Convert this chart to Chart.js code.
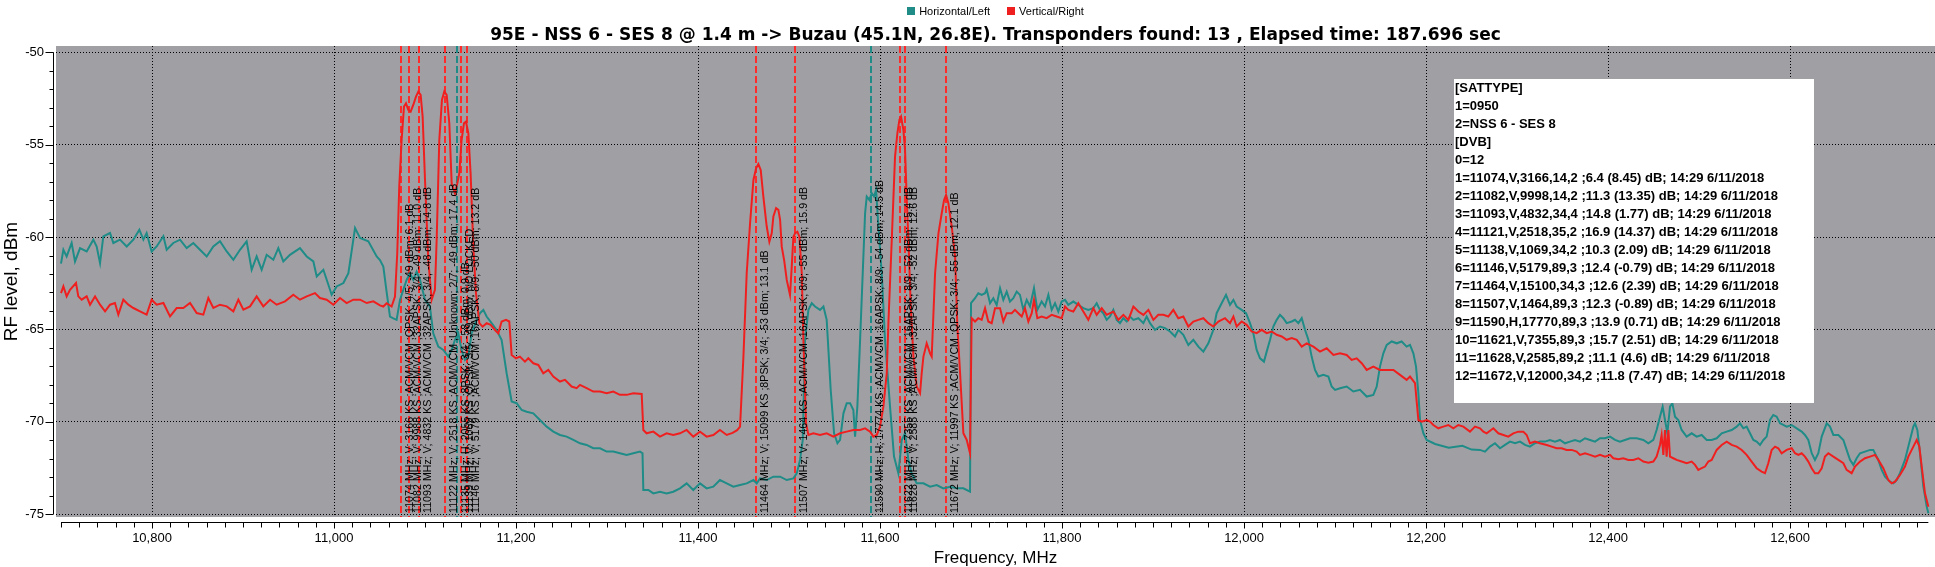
<!doctype html>
<html lang="en">
<head>
<meta charset="utf-8">
<title>95E - NSS 6 - SES 8 spectrum scan</title>
<script src="https://cdn.jsdelivr.net/npm/chart.js@4.4.1/dist/chart.umd.min.js"></script>
<style>
  html, body { margin: 0; padding: 0; background: #fff; }
  canvas { display: block; }
</style>
</head>
<body>
<canvas id="scan" width="1935" height="567"></canvas>
<script>
// spectrum traces, [frequency MHz, level dBm]
const hTrace = [
  [10700,-61.44],[10702.6,-60.69],[10706.2,-61.05],[10711.7,-60.32],[10715.4,-61.32],[10720.9,-60.60],[10728.2,-60.78],[10735.5,-60.14],[10739.2,-60.51],[10742.9,-61.41],
  [10746.5,-59.96],[10753.9,-59.78],[10757.5,-60.32],[10764.8,-60.14],[10772.2,-60.51],[10779.5,-60.14],[10786.1,-59.60],[10790.5,-60.14],[10794.1,-59.78],[10799.6,-60.78],
  [10805.1,-60.51],[10812.5,-59.96],[10816.1,-60.69],[10823.4,-60.32],[10830.8,-60.14],[10838.1,-60.60],[10845.4,-60.32],[10852.7,-60.69],[10860.1,-61.05],[10867.4,-60.51],
  [10874.7,-60.23],[10882.1,-60.78],[10889.4,-61.23],[10896.7,-60.69],[10904.0,-60.23],[10909.5,-61.77],[10915.0,-61.05],[10920.5,-61.77],[10926.0,-60.96],[10933.3,-61.23],
  [10938.8,-60.60],[10944.3,-61.32],[10951.6,-60.96],[10962.6,-60.60],[10970.0,-61.05],[10977.3,-61.32],[10981.0,-62.13],[10988.3,-61.77],[10993.8,-62.58],[10997.4,-63.12],
  [11002.9,-62.67],[11010.3,-62.49],[11015.8,-61.95],[11023.1,-59.51],[11028.6,-60.05],[11037.7,-60.23],[11046.9,-61.05],[11050.5,-61.24],[11054.2,-61.60],[11057.8,-62.96],
  [11061.5,-64.30],[11065.2,-64.40],[11068.8,-64.48],[11072.5,-63.40],[11076.1,-62.86],[11079.8,-62.32],[11083.5,-61.96],[11087.1,-62.32],[11090.8,-61.87],[11094.5,-62.32],
  [11100.0,-63.40],[11105.4,-63.76],[11109.1,-65.21],[11114.6,-65.93],[11120.1,-66.11],[11125.6,-66.47],[11129.3,-66.11],[11132.9,-65.57],[11136.6,-65.21],[11140.2,-66.11],
  [11143.9,-66.65],[11147.6,-66.47],[11151.2,-65.21],[11156.7,-64.48],[11160.4,-64.12],[11164.1,-63.94],[11167.7,-64.30],[11173.2,-64.66],[11178.7,-65.03],[11184.2,-65.57],
  [11189.7,-67.37],[11195.2,-68.90],[11200.7,-68.99],[11206.2,-69.36],[11211.7,-69.45],[11219.0,-69.54],[11226.3,-69.90],[11233.7,-70.26],[11241.0,-70.53],[11248.3,-70.71],
  [11255.6,-70.80],[11263.0,-70.98],[11270.3,-71.16],[11277.6,-71.25],[11284.9,-71.43],[11292.3,-71.43],[11299.6,-71.61],[11306.9,-71.61],[11314.2,-71.70],[11321.6,-71.79],
  [11328.9,-71.70],[11336.2,-71.61],[11339.0,-71.70],[11339.9,-73.69],[11345.4,-73.69],[11350.9,-73.87],[11358.2,-73.78],[11365.5,-73.87],[11372.8,-73.78],[11380.2,-73.60],
  [11387.5,-73.33],[11394.8,-73.69],[11402.2,-73.33],[11409.5,-73.60],[11416.8,-73.51],[11424.1,-73.15],[11431.5,-73.33],[11438.8,-73.51],[11446.2,-73.42],[11453.5,-73.33],
  [11460.9,-73.15],[11464.5,-73.33],[11468.2,-73.06],[11475.5,-73.15],[11482.8,-72.97],[11490.2,-72.97],[11497.5,-73.15],[11504.8,-73.06],[11508.5,-72.79],[11512.1,-72.06],
  [11515.1,-70.98],[11517.6,-65.57],[11521.3,-63.94],[11525.0,-63.58],[11528.6,-63.76],[11534.1,-63.94],[11537.8,-63.76],[11541.4,-64.48],[11543.3,-66.11],[11545.8,-68.27],
  [11549.5,-70.62],[11553.2,-71.16],[11556.1,-70.98],[11559.8,-69.54],[11563.4,-68.99],[11567.1,-68.99],[11570.7,-69.36],[11572.6,-70.80],[11575.1,-69.17],[11578.1,-65.57],
  [11581.0,-61.96],[11583.6,-58.71],[11585.4,-57.81],[11588.3,-57.99],[11590.9,-57.63],[11593.5,-57.81],[11595.7,-57.45],[11598.2,-59.43],[11601.9,-61.96],[11605.5,-65.57],
  [11611.0,-69.18],[11615.4,-71.88],[11620.2,-72.79],[11623.9,-70.98],[11627.5,-70.62],[11631.2,-72.06],[11634.8,-72.79],[11640.3,-73.33],[11647.7,-73.33],[11655.0,-73.51],
  [11662.3,-73.42],[11669.6,-73.60],[11677.0,-73.51],[11684.3,-73.60],[11691.6,-73.60],[11698.9,-73.78],[11700.0,-63.58],[11704.4,-63.31],[11708.0,-63.04],[11711.7,-63.13],
  [11715.4,-63.04],[11717.2,-62.83],[11720.9,-63.58],[11724.5,-63.31],[11728.2,-63.67],[11731.9,-62.77],[11735.5,-63.40],[11739.2,-62.95],[11742.8,-63.49],[11746.5,-63.31],
  [11750.2,-62.95],[11753.8,-63.13],[11757.5,-63.94],[11761.2,-63.40],[11764.8,-63.76],[11769.2,-62.77],[11772.9,-63.94],[11777.6,-63.49],[11781.3,-63.76],[11785.0,-63.13],
  [11788.6,-63.94],[11792.3,-63.58],[11795.9,-64.03],[11799.6,-63.49],[11803.3,-63.40],[11806.9,-63.67],[11812.4,-63.49],[11817.9,-63.67],[11823.4,-63.85],[11828.9,-63.94],
  [11834.4,-63.85],[11838.1,-63.58],[11841.7,-63.94],[11845.4,-64.12],[11849.1,-64.48],[11852.7,-64.30],[11856.4,-63.94],[11860.1,-64.48],[11863.7,-64.66],[11867.4,-64.39],
  [11871.1,-64.57],[11874.7,-64.30],[11878.4,-64.48],[11883.9,-64.39],[11889.4,-64.66],[11893.0,-64.30],[11896.7,-64.66],[11902.2,-65.02],[11907.7,-64.84],[11913.2,-64.93],
  [11918.7,-65.11],[11924.2,-65.38],[11927.8,-65.02],[11933.3,-65.29],[11938.8,-65.84],[11944.3,-65.56],[11949.8,-65.93],[11955.3,-66.20],[11960.8,-65.75],[11966.3,-65.02],
  [11969.9,-64.12],[11975.4,-63.58],[11980.2,-63.13],[11984.6,-63.67],[11988.3,-63.40],[11991.9,-63.76],[11997.4,-63.94],[12002.2,-64.12],[12006.6,-64.66],[12010.2,-65.20],
  [12013.9,-66.11],[12017.6,-66.56],[12021.9,-66.74],[12024.9,-66.20],[12028.6,-65.56],[12032.2,-64.84],[12035.9,-64.48],[12039.5,-64.21],[12043.2,-64.39],[12046.9,-64.66],
  [12052.4,-64.57],[12056.0,-64.48],[12059.7,-64.66],[12063.4,-64.39],[12067.0,-65.02],[12070.7,-65.56],[12074.3,-66.47],[12078.0,-67.19],[12081.7,-67.55],[12087.2,-67.46],
  [12092.7,-67.55],[12096.3,-68.09],[12100.0,-68.27],[12105.5,-68.18],[12112.8,-68.09],[12120.1,-68.36],[12127.5,-68.27],[12134.8,-68.63],[12142.1,-68.54],[12145.8,-68.09],
  [12149.4,-67.01],[12153.1,-66.29],[12156.8,-65.84],[12162.3,-65.65],[12167.8,-65.75],[12173.2,-65.65],[12178.7,-65.93],[12182.4,-65.84],[12186.1,-66.29],[12189.0,-67.01],
  [12191.6,-68.45],[12193.4,-69.90],[12197.1,-70.62],[12200.7,-70.98],[12210.0,-71.20],[12225.0,-71.40],[12240.0,-71.30],[12250.0,-71.50],[12259.3,-71.52],[12264.8,-71.61],
  [12270.3,-71.34],[12275.8,-71.16],[12281.3,-71.43],[12286.8,-71.25],[12292.3,-71.07],[12297.8,-71.16],[12303.3,-71.07],[12308.8,-71.25],[12314.2,-71.34],[12319.7,-71.16],
  [12325.2,-71.07],[12330.7,-71.07],[12336.2,-70.98],[12341.7,-71.07],[12347.2,-70.98],[12352.7,-71.16],[12358.2,-71.07],[12363.7,-70.98],[12369.2,-71.07],[12374.7,-70.89],
  [12380.2,-70.98],[12385.7,-71.07],[12391.2,-70.89],[12396.7,-70.89],[12402.2,-70.80],[12407.7,-70.98],[12413.1,-71.07],[12418.6,-70.98],[12424.1,-70.89],[12431.5,-70.89],
  [12438.8,-70.98],[12444.3,-71.16],[12449.8,-70.98],[12453.4,-70.44],[12457.1,-69.72],[12460.0,-69.18],[12462.6,-69.90],[12465.2,-70.62],[12468.1,-69.18],[12470.7,-69.00],
  [12473.6,-69.72],[12477.2,-69.90],[12480.9,-70.44],[12486.4,-70.80],[12491.9,-70.62],[12497.4,-70.80],[12502.9,-70.71],[12508.4,-70.98],[12513.9,-70.98],[12519.4,-70.89],
  [12524.9,-70.62],[12530.4,-70.53],[12535.9,-70.44],[12541.4,-70.26],[12545.0,-70.08],[12548.7,-70.35],[12552.3,-70.26],[12556.0,-70.62],[12559.7,-70.98],[12563.3,-71.07],
  [12567.0,-71.25],[12570.7,-70.98],[12574.3,-70.80],[12578.0,-69.90],[12581.6,-69.63],[12585.3,-69.72],[12589.0,-70.08],[12592.6,-70.17],[12596.3,-70.26],[12601.8,-70.17],
  [12607.3,-70.35],[12612.8,-70.53],[12616.4,-70.71],[12620.1,-70.98],[12623.8,-71.70],[12627.4,-72.06],[12631.1,-71.70],[12634.8,-70.80],[12640.3,-70.08],[12643.9,-70.26],
  [12647.6,-70.71],[12653.1,-70.71],[12658.6,-70.98],[12662.2,-71.52],[12665.9,-72.06],[12669.6,-72.33],[12673.2,-71.97],[12676.9,-71.70],[12682.4,-71.61],[12687.9,-71.52],
  [12691.5,-71.52],[12697.0,-72.06],[12700.7,-72.60],[12704.4,-72.97],[12709.8,-73.24],[12713.5,-73.33],[12717.2,-73.15],[12720.8,-72.78],[12726.3,-72.06],[12731.8,-70.98],
  [12735.5,-70.26],[12737.3,-70.08],[12739.9,-70.44],[12742.8,-71.70],[12746.5,-73.51],[12750.2,-74.59],[12752.0,-74.95]
];

const vTrace = [
  [10700,-63.03],[10702.6,-62.67],[10706.2,-63.21],[10709.9,-62.85],[10716.5,-62.49],[10719.0,-63.21],[10722.7,-63.39],[10728.2,-63.21],[10731.9,-63.66],[10737.4,-63.21],
  [10742.9,-63.66],[10748.4,-64.02],[10753.9,-63.66],[10759.3,-63.57],[10763.0,-64.20],[10768.5,-63.39],[10774.0,-63.66],[10779.5,-63.84],[10786.8,-64.02],[10794.1,-64.20],
  [10799.6,-63.39],[10805.1,-63.66],[10812.5,-63.57],[10819.8,-64.29],[10827.1,-63.84],[10834.4,-63.84],[10841.8,-63.57],[10849.1,-64.11],[10856.4,-64.20],[10861.9,-63.30],
  [10867.4,-63.84],[10874.7,-63.66],[10882.1,-63.75],[10889.4,-64.02],[10894.9,-63.39],[10900.4,-63.93],[10907.7,-63.75],[10915.0,-63.21],[10922.3,-63.75],[10929.7,-63.39],
  [10937.0,-63.66],[10946.2,-63.48],[10955.3,-63.12],[10962.6,-63.39],[10970.0,-63.21],[10979.1,-63.03],[10984.6,-63.30],[10991.9,-63.39],[10999.3,-63.66],[11006.6,-63.30],
  [11013.9,-63.57],[11021.2,-63.39],[11028.6,-63.39],[11035.9,-63.57],[11043.2,-63.48],[11050.5,-63.70],[11054.2,-63.76],[11057.8,-63.58],[11063.3,-63.76],[11067.0,-63.22],
  [11069.5,-60.88],[11071.7,-57.27],[11074.3,-54.75],[11076.9,-52.94],[11079.1,-52.76],[11081.6,-53.12],[11084.2,-53.21],[11087.1,-52.85],[11090.1,-52.40],[11092.6,-52.13],
  [11095.2,-52.31],[11097.4,-53.48],[11100.0,-56.91],[11103.6,-61.24],[11107.3,-63.40],[11110.9,-62.86],[11112.8,-60.16],[11115.7,-54.75],[11118.6,-52.58],[11121.2,-52.13],
  [11123.8,-52.31],[11126.7,-53.84],[11129.3,-57.09],[11132.9,-57.63],[11135.5,-57.09],[11137.7,-56.55],[11140.2,-54.75],[11142.8,-53.84],[11145.0,-53.75],[11147.6,-54.38],
  [11150.1,-56.55],[11153.1,-60.52],[11156.0,-63.04],[11159.7,-64.66],[11163.3,-64.85],[11167.7,-64.66],[11172.1,-64.75],[11176.9,-65.03],[11180.5,-65.21],[11184.2,-64.57],
  [11189.0,-64.48],[11192.6,-64.57],[11195.2,-66.38],[11200.0,-66.56],[11204.3,-66.47],[11209.8,-66.74],[11213.5,-66.56],[11219.0,-66.83],[11224.5,-66.92],[11230.0,-67.37],
  [11235.5,-67.19],[11241.0,-67.55],[11248.3,-67.82],[11253.8,-67.73],[11261.1,-68.09],[11266.6,-68.18],[11270.3,-68.00],[11277.6,-68.18],[11284.9,-68.36],[11292.3,-68.36],
  [11299.6,-68.45],[11306.9,-68.36],[11314.2,-68.54],[11321.6,-68.54],[11328.9,-68.45],[11338.1,-68.49],[11339.9,-70.44],[11343.5,-70.62],[11350.9,-70.53],[11358.2,-70.80],
  [11365.5,-70.62],[11372.8,-70.71],[11380.2,-70.62],[11387.5,-70.44],[11394.8,-70.80],[11402.2,-70.53],[11409.5,-70.80],[11416.8,-70.71],[11424.1,-70.44],[11431.5,-70.71],
  [11438.0,-70.60],[11443.0,-70.45],[11446.2,-70.26],[11449.9,-66.47],[11453.5,-61.96],[11457.2,-59.25],[11460.9,-56.91],[11463.8,-56.28],[11466.3,-56.05],[11468.9,-56.37],
  [11471.8,-57.81],[11475.5,-59.43],[11478.4,-60.25],[11481.0,-59.80],[11482.8,-58.89],[11485.8,-58.44],[11488.3,-58.53],[11490.2,-59.07],[11492.0,-60.52],[11494.6,-61.24],
  [11497.5,-62.32],[11501.1,-63.13],[11503.0,-61.60],[11504.8,-59.98],[11506.6,-59.80],[11509.2,-59.71],[11511.4,-59.98],[11514.0,-61.96],[11515.8,-65.57],[11518.7,-70.08],
  [11521.3,-70.71],[11526.8,-70.62],[11534.1,-70.71],[11541.4,-70.62],[11548.8,-70.80],[11556.1,-70.62],[11563.4,-70.53],[11570.7,-70.44],[11578.1,-70.44],[11583.6,-70.35],
  [11589.1,-70.53],[11592.7,-70.80],[11596.4,-70.71],[11600.0,-70.26],[11603.7,-69.18],[11607.4,-67.37],[11609.2,-64.66],[11612.9,-60.16],[11616.5,-55.65],[11619.1,-54.38],
  [11621.3,-53.66],[11623.1,-53.48],[11625.7,-54.20],[11627.5,-55.29],[11629.4,-57.99],[11631.2,-60.16],[11633.8,-63.76],[11636.7,-66.47],[11640.3,-68.09],[11644.0,-68.45],
  [11645.8,-67.37],[11647.7,-66.47],[11651.3,-65.75],[11655.0,-66.29],[11656.8,-66.47],[11660.5,-61.96],[11664.2,-59.80],[11667.8,-58.71],[11670.4,-57.99],[11672.6,-57.72],
  [11675.1,-58.17],[11678.8,-59.43],[11682.5,-61.06],[11685.0,-64.85],[11688.0,-67.37],[11691.6,-70.62],[11695.3,-70.98],[11698.9,-71.70],[11700.7,-64.39],[11704.4,-64.57],
  [11708.0,-64.39],[11711.7,-64.48],[11715.4,-63.85],[11719.0,-64.57],[11722.7,-64.66],[11726.4,-63.85],[11731.9,-63.85],[11735.5,-64.57],[11739.2,-64.12],[11744.7,-64.12],
  [11748.3,-63.94],[11752.0,-64.12],[11755.7,-64.30],[11759.3,-63.85],[11763.0,-64.57],[11766.7,-64.12],[11769.2,-63.40],[11772.9,-64.39],[11777.6,-64.30],[11783.1,-64.39],
  [11788.6,-64.21],[11794.1,-64.30],[11799.6,-64.39],[11803.3,-63.76],[11806.9,-63.94],[11812.4,-64.03],[11817.9,-63.58],[11823.4,-64.03],[11828.9,-64.48],[11834.4,-63.85],
  [11838.1,-64.21],[11843.6,-63.85],[11849.1,-64.21],[11856.4,-64.03],[11861.9,-64.48],[11867.4,-64.21],[11872.9,-64.48],[11878.4,-63.76],[11883.9,-64.03],[11889.4,-64.21],
  [11894.9,-63.94],[11900.4,-64.48],[11905.8,-64.21],[11911.3,-64.21],[11916.8,-64.30],[11922.3,-63.94],[11927.8,-64.39],[11933.3,-64.30],[11938.8,-64.84],[11944.3,-64.57],
  [11949.8,-64.48],[11955.3,-64.39],[11960.8,-64.66],[11966.3,-64.84],[11971.8,-64.57],[11979.1,-64.39],[11984.6,-64.66],[11988.3,-64.30],[11991.9,-64.84],[11997.4,-64.57],
  [12002.9,-64.75],[12008.4,-65.11],[12013.9,-65.20],[12019.4,-65.02],[12024.9,-65.20],[12030.4,-65.11],[12035.9,-65.29],[12041.4,-65.38],[12046.9,-65.56],[12052.4,-65.47],
  [12057.9,-65.56],[12063.4,-65.93],[12068.9,-65.75],[12076.2,-65.93],[12083.5,-66.20],[12090.8,-66.02],[12098.2,-66.38],[12105.5,-66.29],[12112.8,-66.38],[12118.3,-66.65],
  [12123.8,-66.56],[12129.3,-66.83],[12134.8,-67.19],[12142.1,-67.01],[12149.4,-67.19],[12156.8,-67.19],[12164.1,-67.19],[12171.4,-67.46],[12178.7,-67.73],[12182.4,-67.55],
  [12187.9,-67.91],[12191.6,-69.90],[12195.2,-69.99],[12200.7,-69.90],[12204.4,-69.99],[12208.0,-70.17],[12213.5,-70.35],[12219.0,-70.26],[12224.5,-70.17],[12230.0,-70.35],
  [12235.5,-70.17],[12241.0,-70.26],[12248.3,-70.53],[12253.8,-70.26],[12259.3,-70.35],[12263.0,-70.53],[12266.6,-70.62],[12274.0,-70.35],[12279.4,-70.62],[12285.0,-70.71],
  [12290.4,-70.80],[12295.9,-70.62],[12301.4,-70.53],[12306.9,-70.53],[12310.6,-70.71],[12314.2,-71.16],[12319.7,-71.07],[12325.2,-71.16],[12332.6,-71.25],[12338.1,-71.34],
  [12343.5,-71.43],[12349.0,-71.43],[12354.5,-71.52],[12360.0,-71.52],[12365.5,-71.61],[12369.2,-71.79],[12374.7,-71.70],[12380.2,-71.79],[12385.7,-71.88],[12391.2,-71.79],
  [12396.7,-71.88],[12402.2,-71.79],[12405.8,-71.97],[12411.3,-72.03],[12416.8,-71.97],[12422.3,-72.06],[12427.8,-72.06],[12433.3,-71.97],[12438.8,-72.15],[12444.3,-72.21],
  [12449.8,-72.15],[12453.4,-71.88],[12457.1,-71.25],[12458.9,-70.71],[12460.8,-71.79],[12462.6,-70.44],[12464.4,-71.88],[12466.3,-70.44],[12468.1,-71.88],[12471.8,-71.97],
  [12475.4,-72.06],[12480.9,-72.15],[12486.4,-72.24],[12491.9,-72.15],[12495.6,-72.33],[12499.2,-72.60],[12502.9,-72.51],[12506.6,-72.42],[12510.2,-72.15],[12513.9,-72.06],
  [12519.4,-71.52],[12524.9,-71.25],[12530.4,-71.07],[12535.9,-71.25],[12541.4,-71.34],[12546.9,-71.52],[12552.3,-71.79],[12557.8,-72.15],[12563.3,-72.51],[12568.8,-72.69],
  [12572.5,-72.78],[12576.1,-72.24],[12579.8,-71.52],[12583.5,-71.34],[12587.1,-71.43],[12590.8,-71.70],[12596.3,-71.52],[12601.8,-71.43],[12605.5,-71.70],[12609.1,-71.79],
  [12612.8,-71.70],[12616.4,-71.88],[12620.1,-72.15],[12623.8,-72.51],[12627.4,-72.78],[12631.1,-72.78],[12634.8,-72.51],[12638.4,-71.88],[12642.1,-71.70],[12647.6,-71.88],
  [12653.1,-72.06],[12658.6,-72.24],[12662.2,-72.60],[12667.7,-72.78],[12671.4,-72.42],[12676.9,-72.15],[12682.4,-71.97],[12687.9,-71.88],[12693.4,-71.79],[12697.0,-72.06],
  [12702.5,-72.51],[12708.0,-73.15],[12711.7,-73.33],[12715.4,-73.24],[12720.8,-72.88],[12726.3,-72.42],[12730.0,-71.88],[12735.5,-71.34],[12739.2,-70.98],[12742.1,-71.34],
  [12744.7,-72.42],[12748.3,-73.87],[12752.0,-74.59]
];

// transponders found (marker lines)
const tpFreq = [11074, 11082, 11093, 11122, 11135, 11139, 11146, 11464, 11507, 11590, 11622, 11628, 11672];
const tpPol  = ['V', 'V', 'V', 'V', 'H', 'V', 'V', 'V', 'V', 'H', 'V', 'V', 'V'];
const tpText = [
  '11074 MHz; V; 3166 KS ;ACM/VCM ;QPSK; 4/5; -49 dBm; 6.1 dB',
  '11082 MHz; V; 9988 KS ;ACM/VCM ;32APSK; 3/4; -49 dBm; 11.0 dB',
  '11093 MHz; V; 4832 KS ;ACM/VCM ;32APSK; 3/4; -48 dBm; 14.8 dB',
  '11122 MHz; V; 2518 KS ;ACM/VCM ;Unknown; 2/7; -49 dBm; 17.4 dB',
  '11135 MHz; H; 2055 KS ;8PSK; 3/4; -58 dBm; 0.9 dB',
  '11139 MHz; V; 1069 KS ;QPSK; 3/5; -49 dBm; NO LOCKED',
  '11146 MHz; V; 5179 KS ;ACM/VCM ;16APSK; 8/9; -50 dBm; 13.2 dB',
  '11464 MHz; V; 15099 KS ;8PSK; 3/4; -53 dBm; 13.1 dB',
  '11507 MHz; V; 1464 KS ;ACM/VCM ;16APSK; 8/9; -55 dBm; 15.9 dB',
  '11590 MHz; H; 17774 KS ;ACM/VCM ;16APSK; 8/9; -54 dBm; 14.5 dB',
  '11622 MHz; V; 7355 KS ;ACM/VCM ;16APSK; 8/9; -52 dBm; 15.4 dB',
  '11628 MHz; V; 2585 KS ;ACM/VCM ;32APSK; 3/4; -52 dBm; 12.6 dB',
  '11672 MHz; V; 11997 KS ;ACM/VCM ;QPSK; 3/4; -55 dBm; 12.1 dB'
];

// ini dump shown in the white box
const infoLines = [
  '[SATTYPE]', '1=0950', '2=NSS 6 - SES 8', '[DVB]', '0=12',
  '1=11074,V,3166,14,2 ;6.4 (8.45) dB; 14:29 6/11/2018',
  '2=11082,V,9998,14,2 ;11.3 (13.35) dB; 14:29 6/11/2018',
  '3=11093,V,4832,34,4 ;14.8 (1.77) dB; 14:29 6/11/2018',
  '4=11121,V,2518,35,2 ;16.9 (14.37) dB; 14:29 6/11/2018',
  '5=11138,V,1069,34,2 ;10.3 (2.09) dB; 14:29 6/11/2018',
  '6=11146,V,5179,89,3 ;12.4 (-0.79) dB; 14:29 6/11/2018',
  '7=11464,V,15100,34,3 ;12.6 (2.39) dB; 14:29 6/11/2018',
  '8=11507,V,1464,89,3 ;12.3 (-0.89) dB; 14:29 6/11/2018',
  '9=11590,H,17770,89,3 ;13.9 (0.71) dB; 14:29 6/11/2018',
  '10=11621,V,7355,89,3 ;15.7 (2.51) dB; 14:29 6/11/2018',
  '11=11628,V,2585,89,2 ;11.1 (4.6) dB; 14:29 6/11/2018',
  '12=11672,V,12000,34,2 ;11.8 (7.47) dB; 14:29 6/11/2018'
];

const titleText = '95E - NSS 6 - SES 8 @ 1.4 m -> Buzau (45.1N, 26.8E). Transponders found: 13 , Elapsed time: 187.696 sec';
const xTickValues = [10800, 11000, 11200, 11400, 11600, 11800, 12000, 12200, 12400, 12600];
const yTickValues = [-75, -70, -65, -60, -55, -50];

const teal = '#1f8c88';
const red = '#f01f1f';
const markRed = '#ff2a2a';
const plotGrey = '#a0a0a4';
const axisFont = 'Liberation Sans, Arial, sans-serif';

// TeeChart-like decoration: grey panel, marker lines, axes, info box, title, legend
const decor = {
  id: 'decor',
  beforeDraw(chart) {
    const {ctx, chartArea: a} = chart;
    ctx.save();
    ctx.fillStyle = '#fff';
    ctx.fillRect(0, 0, chart.width, chart.height);
    ctx.fillStyle = plotGrey;
    ctx.fillRect(a.left, a.top, a.right - a.left, a.bottom - a.top);
    ctx.restore();
  },
  beforeDatasetsDraw(chart) {
    const {ctx, chartArea: a, scales: {x}} = chart;
    ctx.save();
    ctx.lineWidth = 2;
    ctx.setLineDash([7, 3]);
    tpFreq.forEach((f, i) => {
      const px = Math.round(x.getPixelForValue(f));
      ctx.strokeStyle = tpPol[i] === 'H' ? teal : markRed;
      ctx.beginPath();
      ctx.moveTo(px, a.top);
      ctx.lineTo(px, a.bottom);
      ctx.stroke();
    });
    ctx.restore();
  },
  afterDatasetsDraw(chart) {
    const {ctx, chartArea: a, scales: {x}} = chart;
    ctx.save();
    ctx.fillStyle = '#000';
    ctx.font = '10.7px ' + axisFont;
    ctx.textBaseline = 'top';
    ctx.textAlign = 'left';
    tpFreq.forEach((f, i) => {
      ctx.save();
      ctx.translate(Math.round(x.getPixelForValue(f)) + 4, a.bottom - 4);
      ctx.rotate(-Math.PI / 2);
      ctx.fillText(tpText[i], 0, 0);
      ctx.restore();
    });
    ctx.restore();
  },
  afterDraw(chart) {
    const {ctx, chartArea: a, scales: {x, y}} = chart;
    ctx.save();
    ctx.strokeStyle = '#000';
    ctx.lineWidth = 1;

    // bottom axis, set a little below the panel
    const axY = a.bottom + 5.5;
    ctx.beginPath();
    ctx.moveTo(x.getPixelForValue(10700), axY);
    ctx.lineTo(x.getPixelForValue(12752), axY);
    for (let f = 10700; f <= 12740; f += 20) {
      const px = Math.round(x.getPixelForValue(f)) + 0.5;
      ctx.moveTo(px, axY);
      ctx.lineTo(px, axY + (f % 200 === 0 ? 6 : 5));
    }
    ctx.stroke();

    // left axis
    const axX = a.left - 2.5;
    ctx.beginPath();
    ctx.moveTo(axX, y.getPixelForValue(-50));
    ctx.lineTo(axX, y.getPixelForValue(-75));
    for (let d = -75; d <= -50; d++) {
      const py = Math.round(y.getPixelForValue(d)) + 0.5;
      ctx.moveTo(axX, py);
      ctx.lineTo(axX - (d % 5 === 0 ? 8 : 4), py);
    }
    ctx.stroke();

    // axis titles
    ctx.fillStyle = '#000';
    ctx.font = '17px ' + axisFont;
    ctx.textAlign = 'center';
    ctx.textBaseline = 'alphabetic';
    ctx.fillText('Frequency, MHz', (a.left + a.right) / 2, 563);
    ctx.save();
    ctx.font = '19px ' + axisFont;
    ctx.translate(17, (a.top + a.bottom) / 2);
    ctx.rotate(-Math.PI / 2);
    ctx.fillText('RF level, dBm', 0, 0);
    ctx.restore();

    // info box
    ctx.fillStyle = '#fff';
    ctx.fillRect(1454, 79, 360, 324);
    ctx.fillStyle = '#000';
    ctx.font = 'bold 13px ' + axisFont;
    ctx.textAlign = 'left';
    ctx.textBaseline = 'middle';
    infoLines.forEach((t, i) => ctx.fillText(t, 1455, 88.5 + i * 18));

    // title
    ctx.font = 'bold 17px DejaVu Sans, Verdana, sans-serif';
    ctx.textAlign = 'center';
    ctx.textBaseline = 'alphabetic';
    ctx.fillText(titleText, (a.left + a.right) / 2, 40);

    // legend
    ctx.font = '11px ' + axisFont;
    ctx.textAlign = 'left';
    const items = chart.data.datasets.slice().sort((p, q) => p.legendIndex - q.legendIndex);
    const widths = items.map(d => ctx.measureText(d.label).width);
    const total = widths.reduce((s, w) => s + w + 12, 0) + 17 * (items.length - 1);
    let lx = (a.left + a.right) / 2 - total / 2;
    items.forEach((d, i) => {
      ctx.fillStyle = d.borderColor;
      ctx.fillRect(Math.round(lx), 7, 8, 8);
      ctx.fillStyle = '#000';
      ctx.fillText(d.label, lx + 12, 15);
      lx += widths[i] + 12 + 17;
    });
    ctx.restore();
  }
};

new Chart(document.getElementById('scan'), {
  type: 'line',
  data: {
    datasets: [
      {
        label: 'Vertical/Right', legendIndex: 1, order: 0,
        data: vTrace.map(p => ({x: p[0], y: p[1]})),
        borderColor: red, borderWidth: 2, pointRadius: 0, tension: 0
      },
      {
        label: 'Horizontal/Left', legendIndex: 0, order: 1,
        data: hTrace.map(p => ({x: p[0], y: p[1]})),
        borderColor: teal, borderWidth: 2, pointRadius: 0, tension: 0
      }
    ]
  },
  options: {
    responsive: false,
    animation: false,
    devicePixelRatio: 1,
    parsing: false,
    layout: {padding: {top: 46, left: 0, right: 0, bottom: 0}},
    plugins: {legend: {display: false}, title: {display: false}, tooltip: {enabled: false}},
    scales: {
      x: {
        type: 'linear', min: 10694.5, max: 12759.3,
        afterBuildTicks: s => { s.ticks = xTickValues.map(v => ({value: v})); },
        afterFit: s => { s.height = 50; },
        ticks: {
          callback: v => v.toLocaleString('en-US'),
          font: {family: axisFont, size: 13}, color: '#000',
          padding: 14, maxRotation: 0, autoSkip: false
        },
        grid: {color: '#000', lineWidth: 1, drawTicks: false},
        border: {display: false, dash: [1, 2]}
      },
      y: {
        type: 'linear', min: -75.15, max: -49.66,
        afterBuildTicks: s => { s.ticks = yTickValues.map(v => ({value: v})); },
        afterFit: s => { s.width = 56; },
        ticks: {font: {family: axisFont, size: 13}, color: '#000', padding: 12},
        grid: {color: '#000', lineWidth: 1, drawTicks: false},
        border: {display: false, dash: [1, 2]}
      }
    }
  },
  plugins: [decor]
});
</script>
</body>
</html>
